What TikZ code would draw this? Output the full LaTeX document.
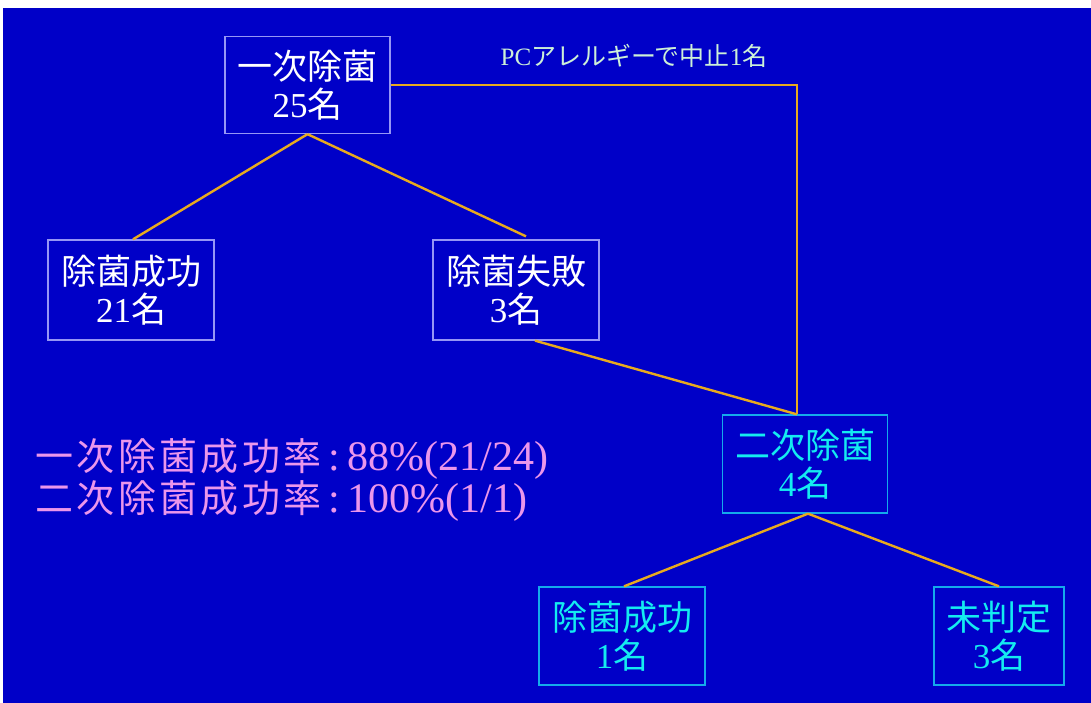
\documentclass[tikz,border=0pt]{standalone}
\usepackage{fontspec}
\setmainfont{Liberation Serif}
\newfontfamily\jp{Noto Sans CJK JP}
\newfontfamily\jpwide[LetterSpace=9]{Noto Sans CJK JP}
\definecolor{bgblue}{RGB}{0,0,200}
\definecolor{boxline}{RGB}{150,150,245}
\definecolor{conn}{RGB}{232,170,30}
\definecolor{cyantext}{RGB}{20,235,240}
\definecolor{cyanline}{RGB}{20,170,235}
\definecolor{pinktext}{RGB}{235,150,235}
\definecolor{labeltext}{RGB}{205,240,215}
\tikzset{
  wbox/.style={draw=boxline, line width=1.3pt, text=white, align=center,
    font=\fontsize{35}{38}\selectfont, inner sep=0pt},
  cbox/.style={wbox, draw=cyanline, text=cyantext},
  link/.style={draw=conn, line width=2.4pt},
}
\begin{document}
\begin{tikzpicture}[x=1pt,y=-1pt]
\useasboundingbox (0,0) rectangle (1091,703);
\fill[white] (0,0) rectangle (1091,703);
\fill[bgblue] (3,8) rectangle (1091,703);

\node[wbox, minimum width=165pt, minimum height=97pt] (b1) at (307.5,85) {{\jp 一次除菌}\\25{\jp 名}};
\node[wbox, minimum width=166pt, minimum height=100pt] (b2) at (131,290) {{\jp 除菌成功}\\21{\jp 名}};
\node[wbox, minimum width=166pt, minimum height=100pt] (b3) at (516,290) {{\jp 除菌失敗}\\3{\jp 名}};
\node[cbox, minimum width=165pt, minimum height=98pt] (b4) at (805,464) {{\jp 二次除菌}\\4{\jp 名}};
\node[cbox, minimum width=166pt, minimum height=98pt] (b5) at (622,636) {{\jp 除菌成功}\\1{\jp 名}};
\node[cbox, minimum width=130pt, minimum height=98pt] (b6) at (999,636) {{\jp 未判定}\\3{\jp 名}};

\node[text=labeltext, font=\fontsize{25}{28}\selectfont, inner sep=0pt] (lbl) at (634,56) {PC{\jp アレルギーで中止}1{\jp 名}};

\node[text=pinktext, anchor=west, inner sep=0pt, align=left] (rate) at (35,480)
 {{\fontsize{38}{42}\selectfont\jpwide 一次除菌成功率}{\fontsize{42}{42}\selectfont\,:\,88\%(21/24)}\\[0pt]
  {\fontsize{38}{42}\selectfont\jpwide 二次除菌成功率}{\fontsize{42}{42}\selectfont\,:\,100\%(1/1)}};

\coordinate (t1) at (b1.south);
\coordinate (corner) at (797,85);
\draw[link] (t1) -- ([xshift=2pt]b2.north);
\draw[link] (t1) -- ([xshift=10pt,yshift=3pt]b3.north);
\draw[link] (b1.east |- corner) -- (corner) -- (corner |- b4.north);
\draw[link] ([xshift=19pt]b3.south) -- (corner |- b4.north);
\draw[link] ([xshift=3pt]b4.south) -- ([xshift=2pt]b5.north);
\draw[link] ([xshift=3pt]b4.south) -- (b6.north);
\end{tikzpicture}
\end{document}
